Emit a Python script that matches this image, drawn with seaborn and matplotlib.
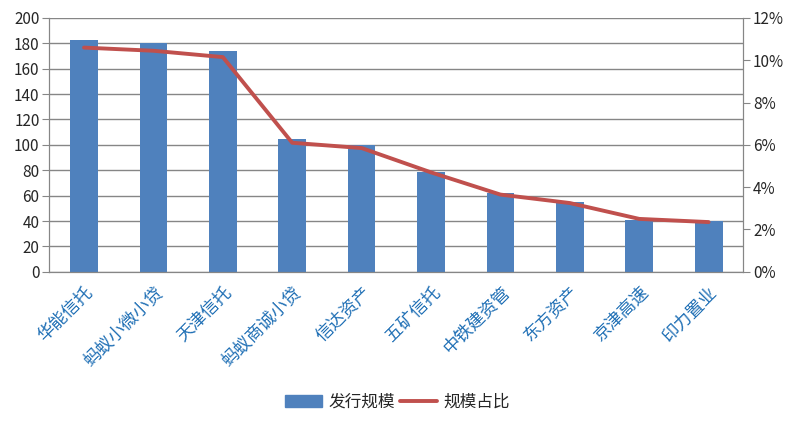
import numpy as np
import pandas as pd
import seaborn as sns
import matplotlib.pyplot as plt
from matplotlib.ticker import PercentFormatter, FixedLocator
from matplotlib.patches import Patch
from matplotlib.lines import Line2D

names = ["华能信托", "蚂蚁小微小贷", "天津信托", "蚂蚁商诚小贷", "信达资产",
         "五矿信托", "中铁建资管", "东方资产", "京津高速", "印力置业"]
scale = [183, 180, 174, 105, 100, 79, 62, 55, 41, 40]
share = [10.6, 10.45, 10.15, 6.1, 5.85, 4.7, 3.65, 3.25, 2.5, 2.35]

df = pd.DataFrame({"name": names, "scale": scale, "share": share})

sns.set_style("white")
plt.rcParams["font.family"] = ["Noto Sans CJK SC", "DejaVu Sans"]

fig, ax = plt.subplots(figsize=(7.95, 4.28), dpi=100)
fig.subplots_adjust(left=0.062, right=0.935, top=0.958, bottom=0.365)

gray = "#868686"
sns.barplot(data=df, x="name", y="scale", color="#4F81BD", saturation=1,
            width=0.4, linewidth=0, ax=ax)
ax.set_ylim(0, 200)
ax.set_yticks(range(0, 201, 20))
ax.set_xlim(-0.5, len(names) - 0.5)
ax.grid(axis="y", color=gray, linewidth=1)
ax.set_axisbelow(True)
ax.set_xlabel("")
ax.set_ylabel("")

ax2 = ax.twinx()
sns.lineplot(x=np.arange(len(names)), y=df["share"], color="#C0504D",
             linewidth=2.8, ax=ax2)
ax2.set_ylim(0, 12)
ax2.set_yticks(range(0, 13, 2))
ax2.yaxis.set_major_formatter(PercentFormatter(decimals=0))
ax2.set_ylabel("")
ax.set_xlim(-0.5, len(names) - 0.5)

for a in (ax, ax2):
    for s in a.spines.values():
        s.set_color(gray)
    a.spines["top"].set_visible(False)
ax.tick_params(axis="y", length=5, color=gray, labelsize=11, pad=2)
ax2.tick_params(axis="y", length=5, color=gray, labelsize=11, pad=2)

ax.set_xticks(range(len(names)))
ax.set_xticklabels(names, rotation=45, ha="right", rotation_mode="anchor",
                   color="#1F6FB5", fontsize=12.5)
ax.tick_params(axis="x", which="major", length=0, pad=8)
ax.xaxis.set_minor_locator(FixedLocator(np.arange(-0.5, len(names), 1)))
ax.tick_params(axis="x", which="minor", length=5, color=gray)

handles = [Patch(color="#4F81BD", label="发行规模"),
           Line2D([0], [0], color="#C0504D", linewidth=2.8, label="规模占比")]
fig.legend(handles=handles, loc="center", bbox_to_anchor=(0.5, 0.06), ncol=2,
           frameon=False, fontsize=12, handlelength=2.2, columnspacing=0.3,
           handletextpad=0.4)

fig.savefig("out.png", dpi=100)
